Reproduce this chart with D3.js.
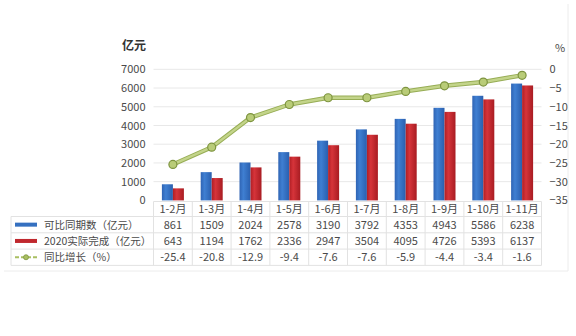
<!DOCTYPE html>
<html>
<head>
<meta charset="utf-8">
<script src="https://cdn.jsdelivr.net/npm/d3@7"></script>
<style>
  html, body { margin: 0; padding: 0; background: #fff; }
  svg { display: block; font-family: "Noto Sans CJK SC", "Noto Sans", sans-serif; }
</style>
</head>
<body>
<svg id="chart" width="576" height="336"></svg>
<script>
// Cumulative investment by month range
const categories = ["1-2月", "1-3月", "1-4月", "1-5月", "1-6月", "1-7月", "1-8月", "1-9月", "1-10月", "1-11月"];
const comparable = [861, 1509, 2024, 2578, 3190, 3792, 4353, 4943, 5586, 6238];
const actual2020 = [643, 1194, 1762, 2336, 2947, 3504, 4095, 4726, 5393, 6137];
const growth = [-25.4, -20.8, -12.9, -9.4, -7.6, -7.6, -5.9, -4.4, -3.4, -1.6];
const leftTicks = [0, 1000, 2000, 3000, 4000, 5000, 6000, 7000];
const rightTicks = [0, -5, -10, -15, -20, -25, -30, -35];
const seriesNames = ["可比同期数（亿元）", "2020实际完成（亿元）", "同比增长（%）"];

const svg = d3.select("#chart");
const plotLeft = 153.5, plotRight = 541.5, plotTop = 69.3, plotBottom = 200.4;
const textColor = "#4a4a4a";

const x = d3.scaleBand().domain(categories).range([plotLeft, plotRight]);
const xs = d3.scaleBand().domain(["a", "b"]).range([-11, 11]);
const yL = d3.scaleLinear().domain([0, 7000]).range([plotBottom, plotTop]);
const yR = d3.scaleLinear().domain([-35, 0]).range([plotBottom, plotTop]);

// gradients for the bars
const defs = svg.append("defs");
function grad(id, stops) {
  const g = defs.append("linearGradient").attr("id", id).attr("x1", 0).attr("x2", 1).attr("y1", 0).attr("y2", 0);
  stops.forEach(([o, c]) => g.append("stop").attr("offset", o).attr("stop-color", c));
}
grad("gBlue", [[0, "#2f64b4"], [0.35, "#3f7fd2"], [1, "#2a5fae"]]);
grad("gRed", [[0, "#b01e24"], [0.35, "#d6343a"], [1, "#a81c22"]]);
const glow = defs.append("filter").attr("id", "soft").attr("x", "-5%").attr("y", "-20%").attr("width", "110%").attr("height", "140%");
glow.append("feGaussianBlur").attr("stdDeviation", 0.6);

// outer frame (faint)
svg.append("path").attr("d", "M568,4 V271 H4").attr("fill", "none").attr("stroke", "#ececec");

// gridlines
svg.append("g").selectAll("line").data(leftTicks.filter(d => d > 0)).join("line")
  .attr("x1", plotLeft).attr("x2", plotRight)
  .attr("y1", d => yL(d)).attr("y2", d => yL(d))
  .attr("stroke", "#e8e8e8").attr("stroke-width", 1);

// left axis
const axL = svg.append("g").attr("transform", `translate(${plotLeft - 4},0)`)
  .call(d3.axisLeft(yL).tickValues(leftTicks).tickFormat(d3.format("d")).tickSize(0).tickPadding(4));
axL.select(".domain").remove();
axL.selectAll("text").attr("font-size", 11).attr("fill", textColor).attr("font-family", "'Noto Sans CJK SC', sans-serif");

// right axis
const axR = svg.append("g").attr("transform", `translate(${plotRight + 5},0)`)
  .call(d3.axisRight(yR).tickValues(rightTicks).tickFormat(d3.format("d")).tickSize(0).tickPadding(3));
axR.select(".domain").remove();
axR.selectAll("text").attr("font-size", 11).attr("fill", textColor).attr("font-family", "'Noto Sans CJK SC', sans-serif");

// axis unit titles
svg.append("text").attr("x", 122).attr("y", 50).attr("font-size", 12).attr("font-weight", "bold").attr("fill", "#333").text("亿元");
svg.append("text").attr("x", 555).attr("y", 52).attr("font-size", 11).attr("fill", textColor).text("%");

// bars
const bars = svg.append("g");
bars.selectAll("rect.cmp").data(comparable).join("rect").attr("class", "cmp")
  .attr("x", (d, i) => x(categories[i]) + x.bandwidth() / 2 + xs("a"))
  .attr("width", xs.bandwidth())
  .attr("y", d => yL(d)).attr("height", d => yL(0) - yL(d))
  .attr("fill", "url(#gBlue)");
bars.selectAll("rect.act").data(actual2020).join("rect").attr("class", "act")
  .attr("x", (d, i) => x(categories[i]) + x.bandwidth() / 2 + xs("b"))
  .attr("width", xs.bandwidth())
  .attr("y", d => yL(d)).attr("height", d => yL(0) - yL(d))
  .attr("fill", "url(#gRed)");

// growth line
const line = d3.line().x((d, i) => x(categories[i]) + x.bandwidth() / 2).y(d => yR(d));
const lg = svg.append("g").attr("filter", "url(#soft)");
lg.append("path").datum(growth).attr("d", line).attr("fill", "none")
  .attr("stroke", "#97ad55").attr("stroke-width", 4.4).attr("stroke-linejoin", "round");
lg.append("path").datum(growth).attr("d", line).attr("fill", "none")
  .attr("stroke", "#c3d48a").attr("stroke-width", 2.4).attr("stroke-linejoin", "round");
lg.selectAll("circle").data(growth).join("circle")
  .attr("cx", (d, i) => x(categories[i]) + x.bandwidth() / 2).attr("cy", d => yR(d))
  .attr("r", 4).attr("fill", "#b9cc78").attr("stroke", "#7e9440").attr("stroke-width", 1.2);

// data table
const tbl = svg.append("g").attr("font-size", 11).attr("fill", textColor);
const rowTop = 201.5, headerH = 15, rowH = 16.3, tableLeft = 11;
const rowsY = [rowTop + headerH, rowTop + headerH + rowH, rowTop + headerH + 2 * rowH, rowTop + headerH + 3 * rowH];
const border = "#e2e2e2";

// horizontal borders
tbl.append("line").attr("x1", plotLeft).attr("x2", plotRight).attr("y1", rowTop).attr("y2", rowTop).attr("stroke", border);
rowsY.forEach(y => tbl.append("line").attr("x1", tableLeft).attr("x2", plotRight).attr("y1", y).attr("y2", y).attr("stroke", border));
// vertical borders
const colEdges = categories.map(c => x(c)).concat([plotRight]);
tbl.selectAll("line.v").data(colEdges).join("line").attr("class", "v")
  .attr("x1", d => d).attr("x2", d => d).attr("y1", rowTop).attr("y2", rowsY[3]).attr("stroke", border);
tbl.append("line").attr("x1", tableLeft).attr("x2", tableLeft).attr("y1", rowsY[0]).attr("y2", rowsY[3]).attr("stroke", border);

// header labels
tbl.selectAll("text.h").data(categories).join("text").attr("class", "h")
  .attr("x", d => x(d) + x.bandwidth() / 2).attr("y", rowTop + headerH / 2 + 4)
  .attr("text-anchor", "middle").attr("fill", textColor).text(d => d);

// value rows
[comparable, actual2020, growth].forEach((arr, r) => {
  tbl.selectAll(null).data(arr).join("text")
    .attr("x", (d, i) => x(categories[i]) + x.bandwidth() / 2)
    .attr("y", rowsY[r] + rowH / 2 + 4)
    .attr("text-anchor", "middle").attr("fill", textColor)
    .text(d => r === 2 ? d.toFixed(1) : d);
});

// row legends
const keyX = 15;
tbl.append("rect").attr("x", keyX).attr("y", rowsY[0] + rowH / 2 - 2).attr("width", 22).attr("height", 4).attr("fill", "#3570c0");
tbl.append("rect").attr("x", keyX).attr("y", rowsY[1] + rowH / 2 - 2).attr("width", 22).attr("height", 4).attr("fill", "#c0282e");
const ly = rowsY[2] + rowH / 2;
tbl.append("line").attr("x1", keyX).attr("x2", keyX + 22).attr("y1", ly).attr("y2", ly)
  .attr("stroke", "#a9bf62").attr("stroke-width", 2).attr("stroke-dasharray", "4,2");
tbl.append("circle").attr("cx", keyX + 11).attr("cy", ly).attr("r", 2.5).attr("fill", "#a9bf62").attr("stroke", "#7e9440").attr("stroke-width", 0.8);
seriesNames.forEach((name, r) => {
  tbl.append("text").attr("x", 44).attr("y", rowsY[r] + rowH / 2 + 4).attr("font-size", 10.5).attr("fill", textColor).text(name);
});
</script>
</body>
</html>
